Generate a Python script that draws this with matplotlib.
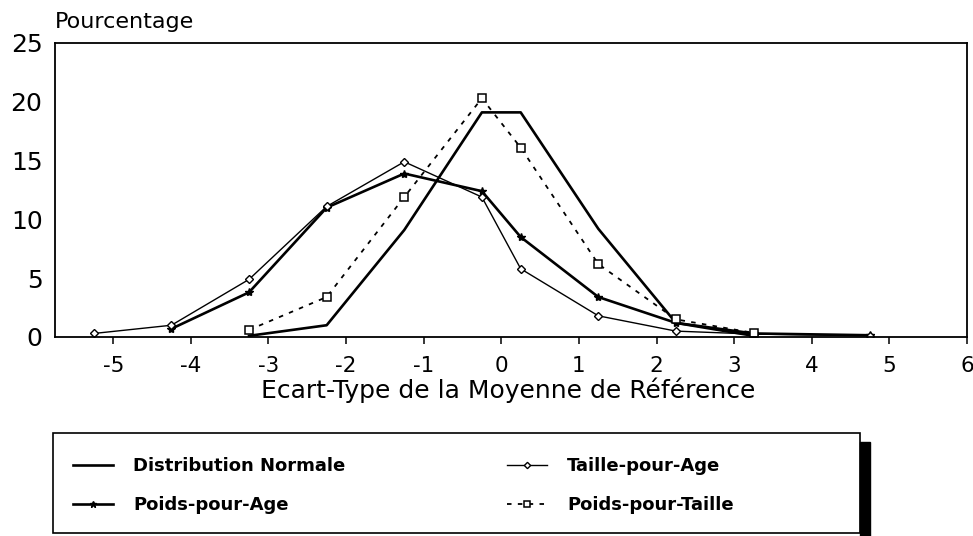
import matplotlib
matplotlib.use("Agg")
import matplotlib.pyplot as plt
from matplotlib.patches import Rectangle

# ---- data ----
x_normale = [-3.25, -2.25, -1.25, -0.25, 0.25, 1.25, 2.25, 3.25]
y_normale = [0.1, 1.0, 9.1, 19.1, 19.1, 9.2, 1.2, 0.1]

x_ppa = [-4.25, -3.25, -2.25, -1.25, -0.25, 0.25, 1.25, 2.25, 3.25, 4.75]
y_ppa = [0.7, 3.8, 11.0, 13.9, 12.4, 8.5, 3.4, 1.2, 0.3, 0.15]

x_tpa = [-5.25, -4.25, -3.25, -2.25, -1.25, -0.25, 0.25, 1.25, 2.25, 3.25, 4.75]
y_tpa = [0.3, 1.0, 4.9, 11.1, 14.9, 11.9, 5.8, 1.8, 0.5, 0.25, 0.1]

x_ppt = [-3.25, -2.25, -1.25, -0.25, 0.25, 1.25, 2.25, 3.25]
y_ppt = [0.6, 3.4, 11.9, 20.3, 16.1, 6.2, 1.5, 0.35]

labels = ["Distribution Normale", "Poids-pour-Age", "Taille-pour-Age", "Poids-pour-Taille"]
xticks = [-5, -4, -3, -2, -1, 0, 1, 2, 3, 4, 5, 6]
yticks = [0, 5, 10, 15, 20, 25]

plt.rcParams['font.family'] = ['DejaVu Sans']

W, H = 973, 536
fig = plt.figure(figsize=(W / 100, H / 100), dpi=100)
ax = fig.add_axes([55 / W, 1 - 337 / H, (967 - 55) / W, (337 - 43) / H])

l1, = ax.plot(x_normale, y_normale, color='black', lw=1.9, label=labels[0])
l2, = ax.plot(x_ppa, y_ppa, color='black', lw=1.9, marker='*', ms=6,
              mfc='black', mec='black', label=labels[1])
l3, = ax.plot(x_tpa, y_tpa, color='black', lw=1.0, marker='D', ms=4,
              mfc='white', mec='black', mew=1.0, label=labels[2])
l4, = ax.plot(x_ppt, y_ppt, color='black', lw=1.3, ls=(0, (2.5, 3.5)), marker='s', ms=6,
              mfc='white', mec='black', mew=1.1, label=labels[3])

ax.set_xlim(-5.75, 6)
ax.set_ylim(0, 25)
ax.set_xticks(xticks)
ax.set_xticklabels([str(t) for t in xticks])
ax.set_yticks(yticks)
ax.tick_params(axis='x', direction='out', length=5, width=1.1, pad=9, labelsize=15.5)
ax.tick_params(axis='y', length=0, pad=9, labelsize=18)
for s in ax.spines.values():
    s.set_linewidth(1.3)

fig.text(55 / W, 1 - 22 / H, "Pourcentage", fontsize=16, ha='left', va='center')
fig.text(508 / W, 1 - 390 / H, "Ecart-Type de la Moyenne de Référence",
         fontsize=18, ha='center', va='center')

# legend frame (drawn separately) and shadow
lx0, lx1, ly0, ly1 = 53, 860, 433, 533
fig.patches.append(Rectangle((lx0 / W, 1 - ly1 / H), (lx1 - lx0) / W, (ly1 - ly0) / H,
                             transform=fig.transFigure, facecolor='none',
                             edgecolor='black', lw=1.2, zorder=4))
fig.patches.append(Rectangle((lx1 / W, 0), 10 / W, (H - 442) / H,
                             transform=fig.transFigure, color='black', zorder=5))

fs = 13
fpx = fs * 100 / 72
leg = ax.legend(handles=[l1, l2, l3, l4], ncol=2,
                bbox_to_anchor=(73 / W, 1 - 528 / H, (734 - 73) / W, (528 - 443) / H),
                bbox_transform=fig.transFigure, mode='expand', loc='center',
                frameon=False, borderaxespad=0, borderpad=0,
                handlelength=40 / fpx, handletextpad=20 / fpx,
                labelspacing=(42 - 1.17 * fpx) / fpx,
                prop={'family': ['DejaVu Sans'], 'weight': 'bold', 'size': fs},
                markerscale=0.8)

fig.savefig("out.png", dpi=100)
